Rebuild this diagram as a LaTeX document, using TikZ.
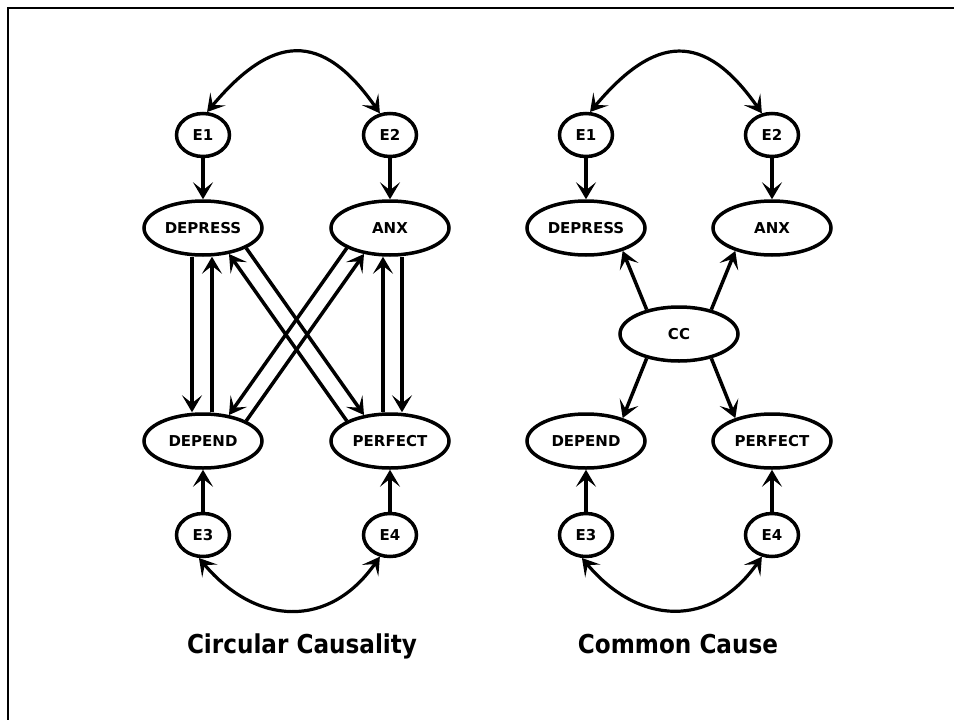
\documentclass[tikz,border=0pt]{standalone}
\usepackage{fontspec}
\setmainfont{DejaVu Sans}
\usepackage{graphicx}
\usetikzlibrary{arrows.meta,shapes.geometric,calc}
\begin{document}
\begin{tikzpicture}[x=1pt,y=1pt,
  every node/.style={font=\bfseries\fontsize{15}{18}\selectfont},
  big/.style={ellipse, draw, line width=3.5pt, minimum width=118pt, minimum height=54pt, inner sep=0pt},
  err/.style={ellipse, draw, line width=3.5pt, minimum width=53pt, minimum height=43pt, inner sep=0pt},
  arr/.style={line width=3.5pt, -{Stealth[length=17pt,width=20pt,inset=8pt]}},
  dbl/.style={line width=3.2pt, {Stealth[length=17pt,width=20pt,inset=8pt]}-{Stealth[length=17pt,width=20pt,inset=8pt]}},
  title/.style={font=\bfseries\fontsize{26}{30}\selectfont, anchor=base, inner sep=0pt}
]
\useasboundingbox (0,0) rectangle (954,-720);
\draw[line width=2.5pt] (8,-720) -- (8,-8) -- (954,-8);

% ---------- Circular Causality ----------
\node[err] (a1) at (203,-135) {E1};
\node[err] (a2) at (390,-135) {E2};
\node[big] (aDep) at (203,-228) {DEPRESS};
\node[big] (aAnx) at (390,-228) {ANX};
\node[big] (aDnd) at (203,-441) {DEPEND};
\node[big] (aPer) at (390,-441) {PERFECT};
\node[err] (a3) at (203,-535) {E3};
\node[err] (a4) at (390,-535) {E4};

\draw[dbl] (a1.80) to[out=50,in=125,looseness=1.5] (a2.115);
\draw[dbl] (a3.-100) to[out=-50,in=-125,looseness=1.25] (a4.-115);
\draw[arr] (a1) -- (aDep);
\draw[arr] (a2) -- (aAnx);
\draw[arr] (a3) -- (aDnd);
\draw[arr] (a4) -- (aPer);

\draw[arr] ($(aDep.south)+(-11,0)$) -- ($(aDnd.north)+(-11,0)$);
\draw[arr] ($(aDnd.north)+(9,0)$) -- ($(aDep.south)+(9,0)$);
\draw[arr] ($(aPer.north)+(-7,0)$) -- ($(aAnx.south)+(-7,0)$);
\draw[arr] ($(aAnx.south)+(12,0)$) -- ($(aPer.north)+(12,0)$);

\draw[arr] (aDep.-25) -- (aPer.135);
\draw[arr] (aPer.155) -- (aDep.-45);
\draw[arr] (aAnx.205) -- (aDnd.45);
\draw[arr] (aDnd.25) -- (aAnx.225);

\node[title] (t1) at (302,-653) {\scalebox{0.89}[1]{Circular Causality}};

% ---------- Common Cause ----------
\node[err] (b1) at (586,-135) {E1};
\node[err] (b2) at (772,-135) {E2};
\node[big] (bDep) at (586,-228) {DEPRESS};
\node[big] (bAnx) at (772,-228) {ANX};
\node[big] (cc) at (679,-334) {CC};
\node[big] (bDnd) at (586,-441) {DEPEND};
\node[big] (bPer) at (772,-441) {PERFECT};
\node[err] (b3) at (586,-535) {E3};
\node[err] (b4) at (772,-535) {E4};

\draw[dbl] (b1.80) to[out=50,in=125,looseness=1.5] (b2.115);
\draw[dbl] (b3.-100) to[out=-50,in=-125,looseness=1.25] (b4.-115);
\draw[arr] (b1) -- (bDep);
\draw[arr] (b2) -- (bAnx);
\draw[arr] (b3) -- (bDnd);
\draw[arr] (b4) -- (bPer);

\draw[arr] (cc.143) -- (bDep.-32);
\draw[arr] (cc.37) -- (bAnx.212);
\draw[arr] (cc.217) -- (bDnd.32);
\draw[arr] (cc.-37) -- (bPer.148);

\node[title] (t2) at (678,-653) {\scalebox{0.89}[1]{Common Cause}};
\end{tikzpicture}
\end{document}
